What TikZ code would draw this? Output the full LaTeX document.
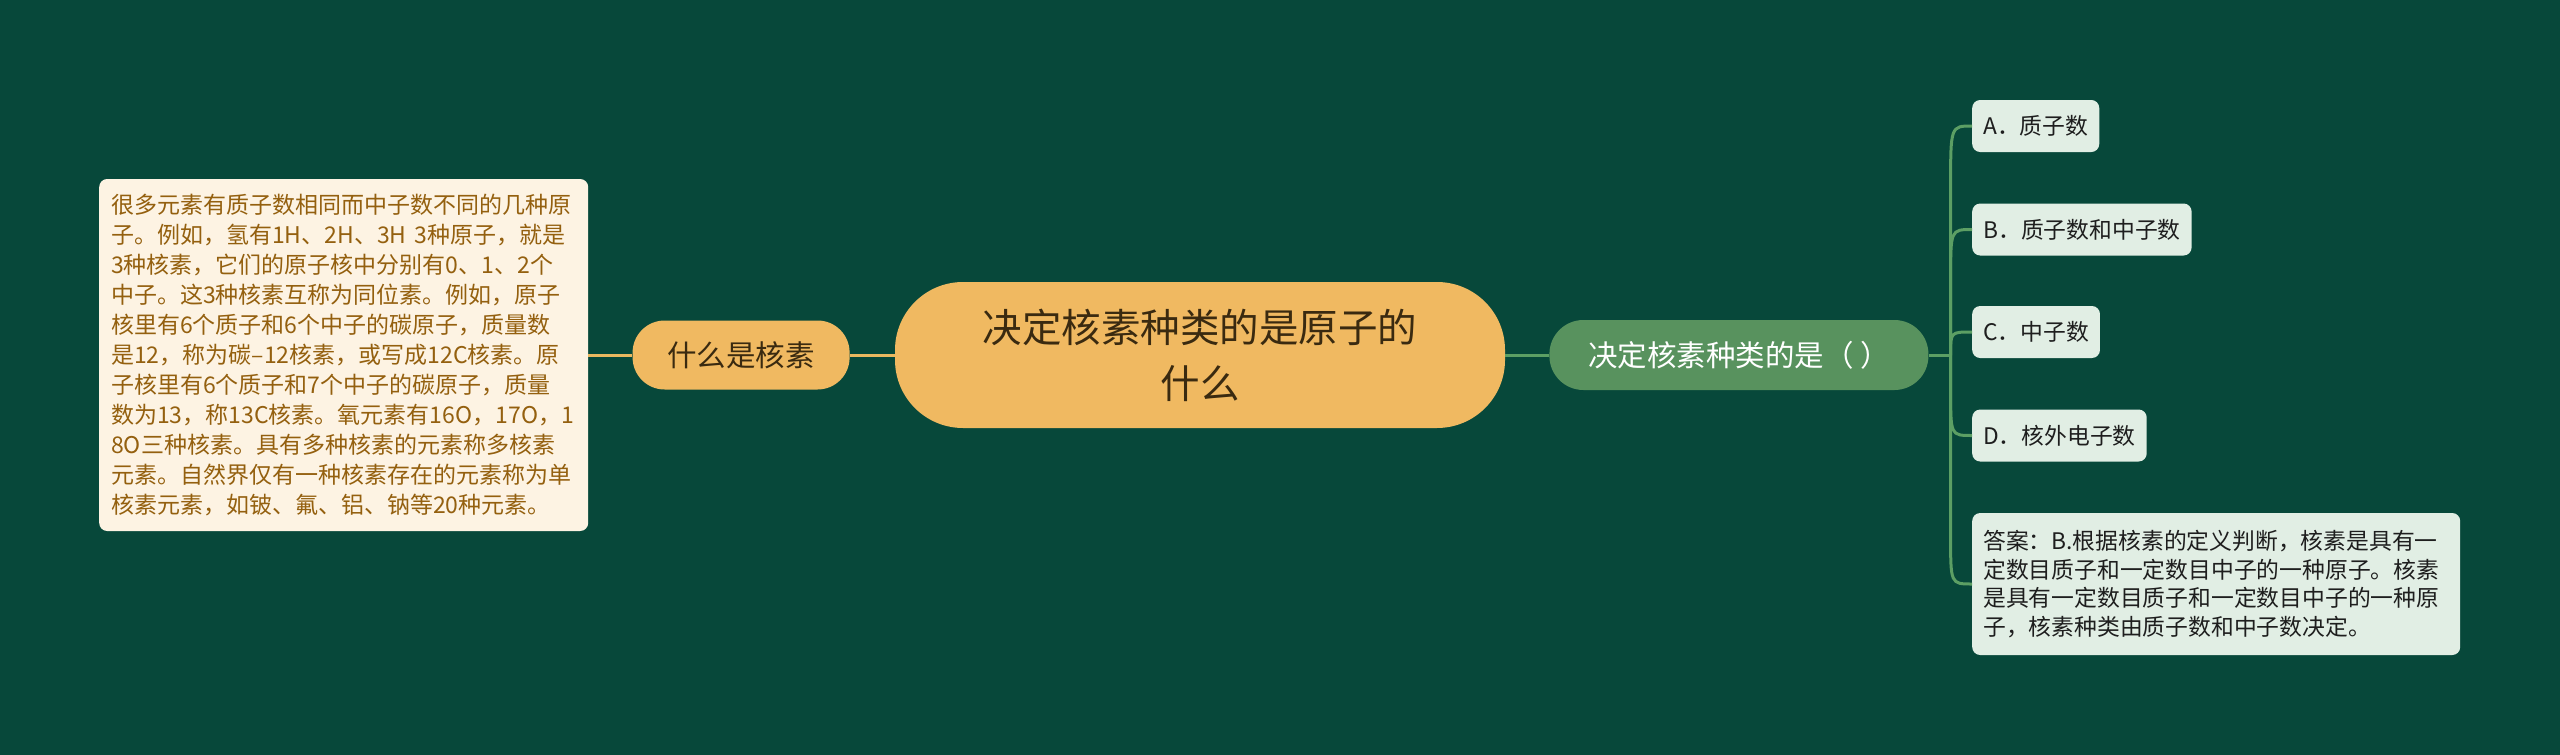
\documentclass[tikz,border=0pt]{standalone}
\usepackage{fontspec}
\setmainfont{Noto Sans CJK SC}
\usetikzlibrary{positioning}
\usetikzlibrary{calc}
\definecolor{bgGreen}{HTML}{07483A}
\definecolor{rootFill}{HTML}{F0B961}
\definecolor{rootText}{HTML}{3A2A10}
\definecolor{noteFill}{HTML}{FDF3E3}
\definecolor{noteText}{HTML}{94600F}
\definecolor{qFill}{HTML}{58925E}
\definecolor{optFill}{HTML}{E1EEE4}
\definecolor{optText}{HTML}{1E1E1E}
\definecolor{lineY}{HTML}{E9B85F}
\definecolor{lineG}{HTML}{5C9F64}

\begin{document}
\begin{tikzpicture}[x=1pt,y=-1pt,
  yellowbox/.style={fill=rootFill,text=rootText,align=center,inner sep=0pt},
  optbox/.style={fill=optFill,text=optText,rounded corners=8pt,anchor=west,
    inner xsep=11pt,minimum height=52pt,font=\fontsize{22.8}{28.5}\selectfont},
  branchY/.style={draw=lineY,line width=3pt},
  branchG/.style={draw=lineG,line width=3pt}]
\fill[bgGreen] (0,0) rectangle (2560,755);
\useasboundingbox (0,0) rectangle (2560,755);

\node[yellowbox,minimum width=610pt,minimum height=146pt,rounded corners=68pt,
  font=\fontsize{39.5}{56}\selectfont] (root) at (1200,355)
  {决定核素种类的是原子的\\什么};
\node[yellowbox,minimum width=217pt,minimum height=69pt,rounded corners=32pt,
  font=\fontsize{29.5}{36}\selectfont,left=45pt of root] (whatis) {什么是核素};
\node[fill=noteFill,text=noteText,rounded corners=8pt,text width=465pt,align=left,
  inner xsep=12pt,minimum height=352pt,font=\fontsize{23}{30}\selectfont,
  left=44pt of whatis] (detail)
  {很多元素有质子数相同而中子数不同的几种原\\
   子。例如，氢有1H、2H、3H 3种原子，就是\\
   3种核素，它们的原子核中分别有0、1、2个\\
   中子。这3种核素互称为同位素。例如，原子\\
   核里有6个质子和6个中子的碳原子，质量数\\
   是12，称为碳–12核素，或写成12C核素。原\\
   子核里有6个质子和7个中子的碳原子，质量\\
   数为13，称13C核素。氧元素有16O，17O，1\\
   8O三种核素。具有多种核素的元素称多核素\\
   元素。自然界仅有一种核素存在的元素称为单\\
   核素元素，如铍、氟、铝、钠等20种元素。};

\node[fill=qFill,text=white,minimum width=379pt,minimum height=70pt,
  rounded corners=34pt,font=\fontsize{29.5}{36}\selectfont,
  right=44pt of root] (question) {决定核素种类的是（ ）};
\coordinate[right=22pt of question] (fork);

\node[optbox] (optA) at (1972,126) {A．质子数};
\node[optbox] (optB) at (1972,229.5) {B．质子数和中子数};
\node[optbox] (optC) at (1972,332) {C．中子数};
\node[optbox] (optD) at (1972,435.5) {D．核外电子数};
\node[optbox,text width=466pt,align=left,minimum height=142pt] (answer) at (1972,584)
  {答案：B.根据核素的定义判断，核素是具有一\\
   定数目质子和一定数目中子的一种原子。核素\\
   是具有一定数目质子和一定数目中子的一种原\\
   子，核素种类由质子数和中子数决定。};

\draw[branchY] (detail.east) -- (whatis.west);
\draw[branchY] (whatis.east) -- (root.west);
\draw[branchG] (root.east) -- (question.west);
\draw[branchG] (question.east) -- (fork);
\foreach \opt/\d in {optA/60,optB/50,optC/22,optD/45,answer/48}
  \draw[branchG] (fork) -- ($(fork |- \opt.west)!\d pt!(fork)$)
    .. controls (fork |- \opt.west) .. (\opt.west);
\end{tikzpicture}
\end{document}
